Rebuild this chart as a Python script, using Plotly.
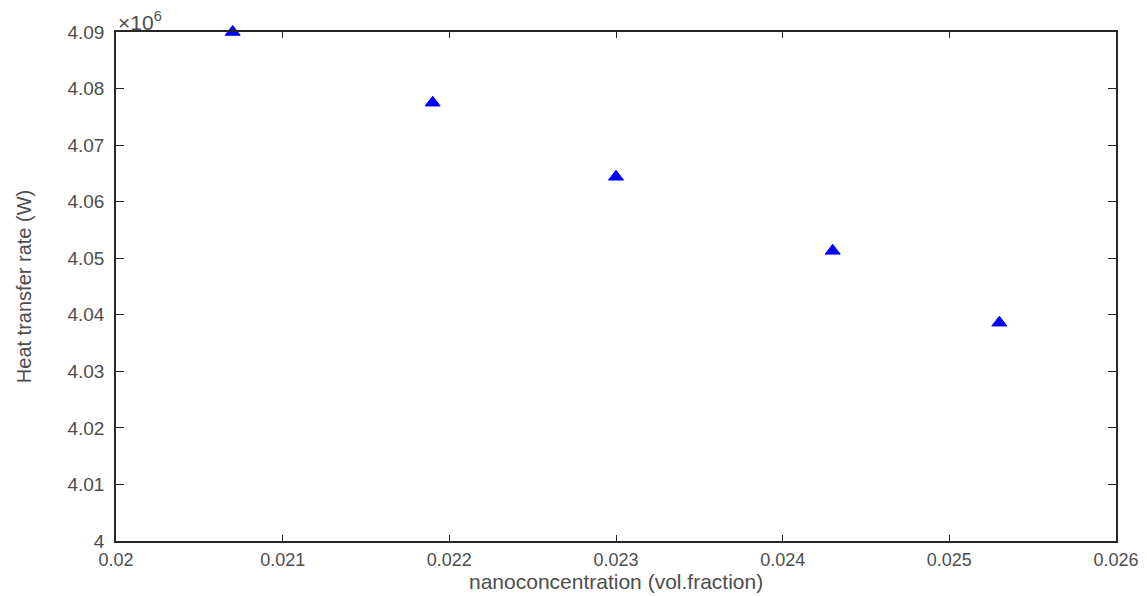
import plotly.graph_objects as go

# Data
concentration = [0.0207, 0.0219, 0.0230, 0.0243, 0.0253]  # vol. fraction
heat_rate_mw = [4.0900, 4.0775, 4.0644, 4.0513, 4.0386]    # x 10^6 W

y_ticks = [4.00, 4.01, 4.02, 4.03, 4.04, 4.05, 4.06, 4.07, 4.08, 4.09]
y_tick_text = ["4", "4.01", "4.02", "4.03", "4.04", "4.05", "4.06", "4.07", "4.08", "4.09"]
x_ticks = [0.020, 0.021, 0.022, 0.023, 0.024, 0.025, 0.026]
x_tick_text = ["0.02", "0.021", "0.022", "0.023", "0.024", "0.025", "0.026"]

axis_color = "#262626"
label_color = "#4d4d4d"
font_family = "Liberation Sans, Arial, sans-serif"

fig = go.Figure()
fig.add_trace(go.Scatter(
    x=concentration, y=heat_rate_mw, mode="markers",
    marker=dict(symbol="triangle-up", size=13, color="#0000ff",
                line=dict(width=1, color="#0000ff")),
    showlegend=False, cliponaxis=False,
))

fig.update_layout(
    width=1147, height=596,
    margin=dict(l=116, r=31, t=32, b=55),
    paper_bgcolor="white", plot_bgcolor="white",
    font=dict(family=font_family, size=18, color=label_color),
    xaxis=dict(
        range=[0.020, 0.026], tickvals=x_ticks, ticktext=x_tick_text,
        automargin=False,
        showgrid=False, zeroline=False, showline=True, linecolor=axis_color,
        linewidth=1.5, mirror="ticks", ticks="inside", ticklen=6,
        tickcolor=axis_color, tickwidth=1.2,
        tickfont=dict(size=18, color=label_color),
        ticklabelstandoff=2,
    ),
    yaxis=dict(
        range=[4.00, 4.09], tickvals=y_ticks, ticktext=y_tick_text,
        automargin=False,
        showgrid=False, zeroline=False, showline=True, linecolor=axis_color,
        linewidth=1.5, mirror="ticks", ticks="inside", ticklen=8,
        tickcolor=axis_color, tickwidth=1.2,
        tickfont=dict(size=19, color=label_color),
        ticklabelstandoff=6,
        title=dict(text="Heat transfer rate (W)", standoff=30,
                   font=dict(size=20, color=label_color)),
    ),
    annotations=[
        dict(text="\u00d710<sup>6</sup>", xref="paper", yref="paper",
             x=0.0, y=1.0, xanchor="left", yanchor="bottom", showarrow=False,
             font=dict(size=21, color=label_color), yshift=-4),
        dict(text="nanoconcentration (vol.fraction)", xref="paper", yref="paper",
             x=0.5, y=0.0, xanchor="center", yanchor="middle", showarrow=False,
             font=dict(size=21, color=label_color), yshift=-40),
    ],
)

fig.write_html("out.html")
